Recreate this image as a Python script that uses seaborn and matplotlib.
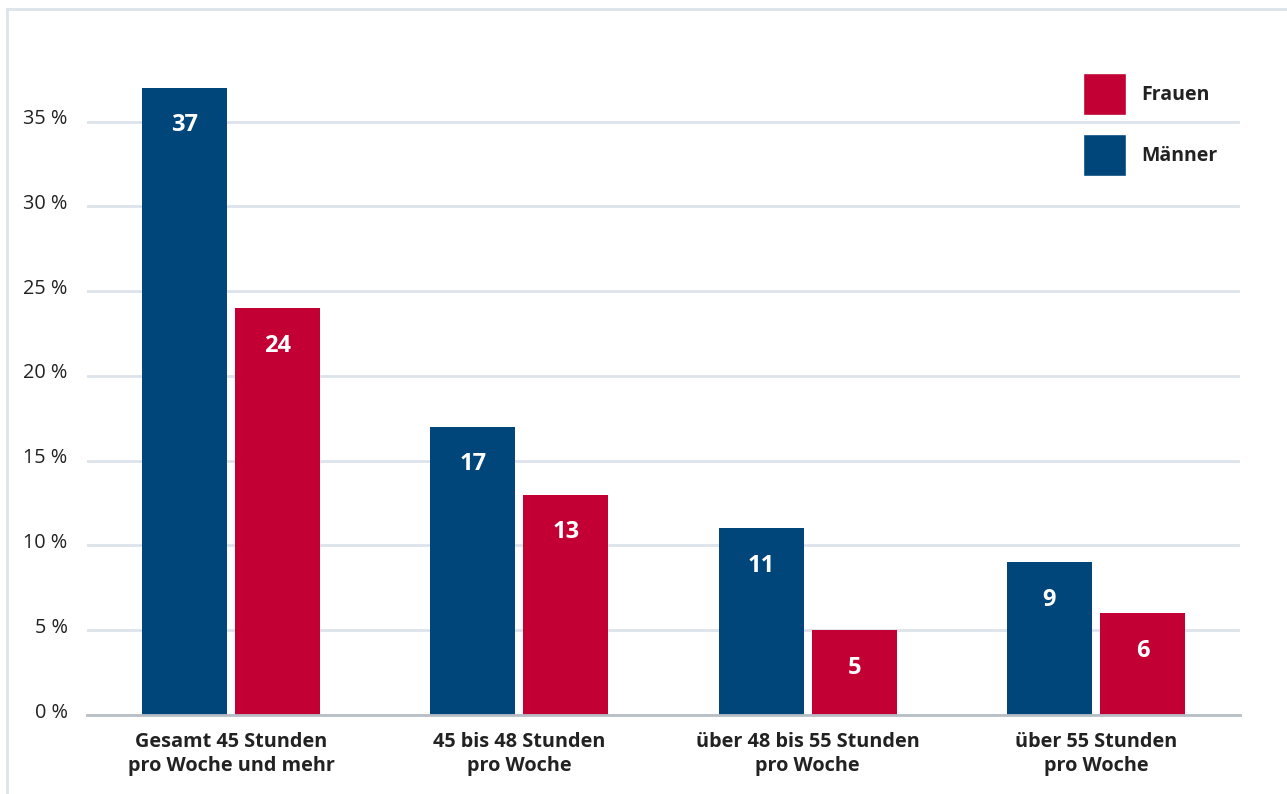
import matplotlib
matplotlib.use("Agg")
import matplotlib.pyplot as plt
import matplotlib.transforms as mtransforms
import seaborn as sns
import pandas as pd
from matplotlib.patches import Patch
from matplotlib.lines import Line2D

categories = ["Gesamt 45 Stunden\npro Woche und mehr", "45 bis 48 Stunden\npro Woche",
              "über 48 bis 55 Stunden\npro Woche", "über 55 Stunden\npro Woche"]
maenner = [37, 17, 11, 9]
frauen = [24, 13, 5, 6]
series = ["Männer", "Frauen"]
y_ticks = [0, 5, 10, 15, 20, 25, 30, 35]
y_tick_labels = ["0 %", "5 %", "10 %", "15 %", "20 %", "25 %", "30 %", "35 %"]

colors = {"Männer": "#00467a", "Frauen": "#c20034"}

df = pd.DataFrame({
    "Kategorie": categories * 2,
    "Geschlecht": ["Männer"] * 4 + ["Frauen"] * 4,
    "Wert": maenner + frauen,
})

sns.set_theme(style="white")
plt.rcParams["font.family"] = ["Open Sans", "DejaVu Sans"]

fig = plt.figure(figsize=(12.87, 7.94), dpi=100)
ax = fig.add_axes([87 / 1287, 1 - 715 / 794, (1240 - 87) / 1287, (715 - 30) / 794])

sns.barplot(data=df, x="Kategorie", y="Wert", hue="Geschlecht", hue_order=series,
            palette=colors, width=0.646, gap=0.086, ax=ax, legend=False,
            saturation=1, linewidth=0)

for cont in ax.containers:
    for patch, val in zip(cont.patches, cont.datavalues):
        ax.annotate(f"{int(val)}", xy=(patch.get_x() + patch.get_width() / 2, patch.get_height()),
                    xytext=(0, -27), textcoords="offset points", ha="center", va="center",
                    color="white", fontsize=17, fontweight="bold")

ax.set_xlim(-0.5, 3.5)
ax.set_ylim(0, 40.4)
ax.set_yticks(y_ticks)
ax.set_yticklabels(y_tick_labels, fontsize=14.3, color="#222222")
ax.tick_params(axis="y", length=0, pad=14)
ax.tick_params(axis="x", length=0, pad=12)
offset = mtransforms.ScaledTranslation(0, 5 / 100, fig.dpi_scale_trans)
for lbl in ax.get_yticklabels():
    lbl.set_transform(lbl.get_transform() + offset)
for lbl in ax.get_xticklabels():
    lbl.set_fontsize(14.3)
    lbl.set_fontweight("bold")
    lbl.set_color("#222222")
    lbl.set_linespacing(1.3)
ax.set_xlabel("")
ax.set_ylabel("")
ax.yaxis.grid(True, color="#dde3ea", linewidth=2)
ax.set_axisbelow(True)
for s in ["top", "right", "left"]:
    ax.spines[s].set_visible(False)
ax.spines["bottom"].set_color("#b8bec6")
ax.spines["bottom"].set_linewidth(2)

handles = [Patch(facecolor=colors["Frauen"], label="Frauen"),
           Patch(facecolor=colors["Männer"], label="Männer")]
leg = fig.legend(handles=handles, loc="upper left",
                 bbox_to_anchor=(1075 / 1287, 1 - 65 / 794),
                 frameon=False, handlelength=2.2, handleheight=2.95, labelspacing=1.0,
                 handletextpad=0.82, borderaxespad=0, prop={"size": 14, "weight": "bold"})
for t in leg.get_texts():
    t.set_color("#222222")

fig.add_artist(Line2D([7 / 1287, 7 / 1287], [0, 1 - 9 / 794], color="#dde3ea", linewidth=2))
fig.add_artist(Line2D([7 / 1287, 1], [1 - 9 / 794, 1 - 9 / 794], color="#dde3ea", linewidth=2))

fig.savefig("out.png", dpi=100)
